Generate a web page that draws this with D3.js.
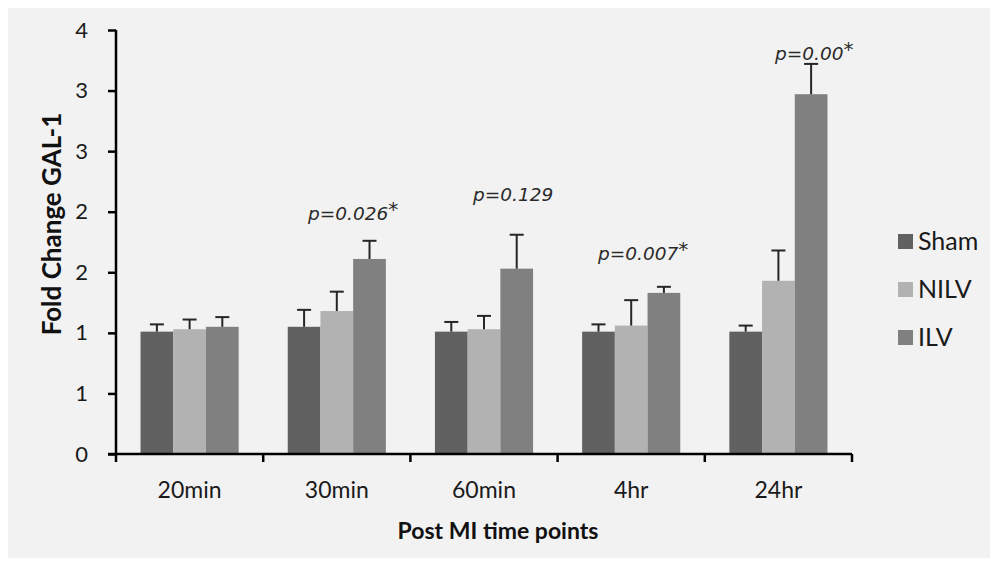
<!DOCTYPE html>
<html>
<head>
<meta charset="utf-8">
<script src="https://cdn.jsdelivr.net/npm/d3@7"></script>
<style>
  html, body { margin: 0; padding: 0; background: #ffffff; }
  svg { display: block; }
</style>
</head>
<body>
<svg id="chart" width="995" height="565"></svg>
<script>
// Time points after MI and the three groups
const categories = ["20min", "30min", "60min", "4hr", "24hr"];
const seriesNames = ["Sham", "NILV", "ILV"];

// Mean fold change of GAL-1 per group
const shamValues = [1.01, 1.05, 1.01, 1.01, 1.01];
const nilvValues = [1.03, 1.18, 1.03, 1.06, 1.43];
const ilvValues  = [1.05, 1.61, 1.53, 1.33, 2.97];

// Upper error (SD) per group
const shamErrors = [0.06, 0.14, 0.08, 0.06, 0.05];
const nilvErrors = [0.08, 0.16, 0.11, 0.21, 0.25];
const ilvErrors  = [0.08, 0.15, 0.28, 0.05, 0.25];

// p-value annotations (ILV vs Sham)
const pLabels = ["", "p=0.026", "p=0.129", "p=0.007", "p=0.00"];
const pStars  = [false, true, false, true, true];

// Y axis ticks and their printed labels (one decimal place rounded away)
const yTickValues = [0, 0.5, 1, 1.5, 2, 2.5, 3, 3.5];
const yTickLabels = ["0", "1", "1", "2", "2", "3", "3", "4"];

const colors = { Sham: "#616161", NILV: "#b2b2b2", ILV: "#808080" };

const values = { Sham: shamValues, NILV: nilvValues, ILV: ilvValues };
const errors = { Sham: shamErrors, NILV: nilvErrors, ILV: ilvErrors };

const svg = d3.select("#chart");

// chart area background
svg.append("rect")
  .attr("x", 8).attr("y", 8).attr("width", 982).attr("height", 550)
  .attr("fill", "#f2f2f2");

const plot = { left: 116, right: 852, top: 30, bottom: 454 };

const x = d3.scaleBand().domain(categories).range([plot.left, plot.right]).paddingInner(0).paddingOuter(0);
const bw = x.bandwidth() / 4.5;   // three bars with a 150% gap
const xs = d3.scaleBand().domain(seriesNames).range([0, bw * 3]);
const groupOffset = bw * 0.75;

const y = d3.scaleLinear().domain([0, 3.5]).range([plot.bottom, plot.top]);

const rows = [];
categories.forEach((c, i) => {
  seriesNames.forEach(s => {
    rows.push({ cat: c, idx: i, series: s, value: values[s][i], err: errors[s][i] });
  });
});

const g = svg.append("g");

// bars
g.selectAll("rect.bar").data(rows).join("rect")
  .attr("class", "bar")
  .attr("x", d => x(d.cat) + groupOffset + xs(d.series))
  .attr("y", d => y(d.value))
  .attr("width", xs.bandwidth())
  .attr("height", d => y(0) - y(d.value))
  .attr("fill", d => colors[d.series]);

// error bars (upper only)
const capHalf = 7;
const eb = g.selectAll("g.err").data(rows).join("g").attr("class", "err")
  .attr("stroke", "#262626").attr("stroke-width", 2);
eb.append("line")
  .attr("x1", d => x(d.cat) + groupOffset + xs(d.series) + xs.bandwidth() / 2)
  .attr("x2", d => x(d.cat) + groupOffset + xs(d.series) + xs.bandwidth() / 2)
  .attr("y1", d => y(d.value))
  .attr("y2", d => y(d.value + d.err));
eb.append("line")
  .attr("x1", d => x(d.cat) + groupOffset + xs(d.series) + xs.bandwidth() / 2 - capHalf)
  .attr("x2", d => x(d.cat) + groupOffset + xs(d.series) + xs.bandwidth() / 2 + capHalf)
  .attr("y1", d => y(d.value + d.err))
  .attr("y2", d => y(d.value + d.err));

// y axis
const yAxis = d3.axisLeft(y).tickValues(yTickValues)
  .tickFormat((d, i) => yTickLabels[i]).tickSize(8).tickPadding(20);
const yg = svg.append("g").attr("transform", `translate(${plot.left},0)`).call(yAxis);
yg.select(".domain").attr("d", `M0,${plot.top}V${plot.bottom + 8}`).attr("stroke", "#000").attr("stroke-width", 2.5);
yg.selectAll(".tick line").attr("stroke", "#000").attr("stroke-width", 2.5);
yg.selectAll(".tick text")
  .attr("font-family", "Lato, sans-serif").attr("font-size", 22).attr("fill", "#1a1a1a");

// x axis: ticks at group boundaries
const boundaries = categories.map(c => x(c) + x.bandwidth());
const xg = svg.append("g").attr("transform", `translate(0,${plot.bottom})`);
xg.append("line").attr("x1", plot.left - 8).attr("x2", plot.right)
  .attr("stroke", "#000").attr("stroke-width", 2.5);
xg.selectAll("line.bt").data(boundaries).join("line").attr("class", "bt")
  .attr("x1", d => d).attr("x2", d => d).attr("y1", 0).attr("y2", 8)
  .attr("stroke", "#000").attr("stroke-width", 2.5);
xg.selectAll("text.cat").data(categories).join("text").attr("class", "cat")
  .attr("x", d => x(d) + x.bandwidth() / 2)
  .attr("y", 44)
  .attr("text-anchor", "middle")
  .attr("font-family", "Lato, sans-serif").attr("font-size", 23).attr("fill", "#1a1a1a")
  .text(d => d);

// axis titles
svg.append("text")
  .attr("x", 498).attr("y", 539)
  .attr("text-anchor", "middle")
  .attr("font-family", "Lato, sans-serif").attr("font-weight", "bold").attr("font-size", 23)
  .attr("fill", "#111")
  .text("Post MI time points");
svg.append("text")
  .attr("transform", "translate(61,224) rotate(-90)")
  .attr("text-anchor", "middle")
  .attr("font-family", "Lato, sans-serif").attr("font-weight", "bold").attr("font-size", 26)
  .attr("fill", "#111")
  .text("Fold Change GAL-1");

// p-value annotations, placed above each time point
const pLabelPos = [null, [308, 220], [473, 201], [598, 260], [775, 60]];
categories.forEach((c, i) => {
  if (!pLabels[i]) return;
  const t = svg.append("text")
    .attr("x", pLabelPos[i][0]).attr("y", pLabelPos[i][1])
    .attr("font-family", "'DejaVu Sans', Verdana, sans-serif")
    .attr("font-style", "italic").attr("font-size", 18.5).attr("fill", "#2a2a2a");
  t.append("tspan").text(pLabels[i]);
  if (pStars[i]) t.append("tspan").attr("dy", -4).attr("font-size", 20).text("*");
});

// legend
const legend = svg.append("g").attr("transform", "translate(898,234)");
seriesNames.forEach((s, i) => {
  const row = legend.append("g").attr("transform", `translate(0,${i * 48})`);
  row.append("rect").attr("x", 0).attr("y", 0).attr("width", 15).attr("height", 15)
    .attr("fill", colors[s]);
  row.append("text").attr("x", 20).attr("y", 16)
    .attr("font-family", "Lato, sans-serif").attr("font-size", 25).attr("fill", "#1a1a1a")
    .text(s);
});
</script>
</body>
</html>
